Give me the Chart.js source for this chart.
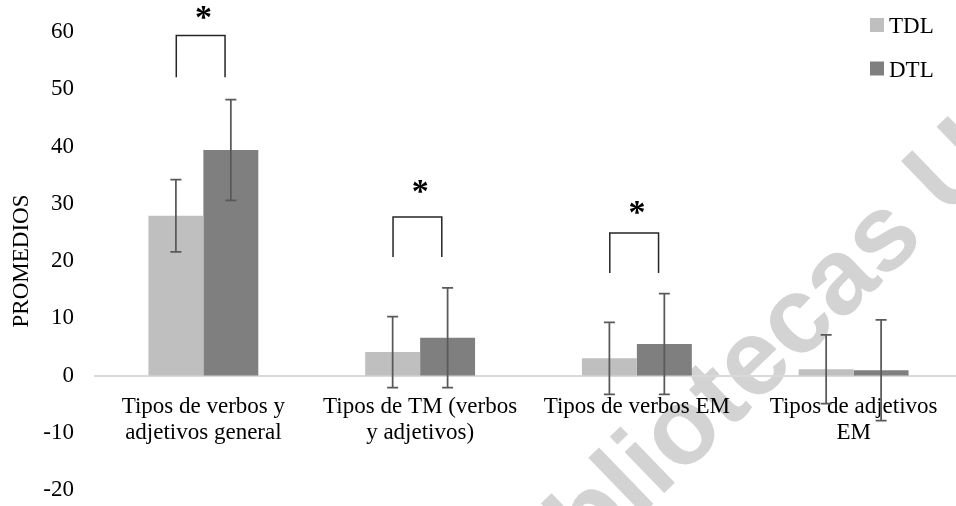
<!DOCTYPE html>
<html>
<head>
<meta charset="utf-8">
<script src="https://cdn.jsdelivr.net/npm/chart.js@4.4.1/dist/chart.umd.min.js"></script>
<style>
  html, body { margin: 0; padding: 0; background: #fff; overflow: hidden; }
  #wrap { position: relative; width: 966px; height: 506px; }
</style>
</head>
<body>
<div id="wrap"><canvas id="chart"></canvas></div>
<script>
// ---- datos ----
const CATEGORIES = [
  ["Tipos de verbos y", "adjetivos general"],
  ["Tipos de TM (verbos", "y adjetivos)"],
  "Tipos de verbos EM",
  ["Tipos de adjetivos", "EM"],
];
const TDL = [27.9, 4.1, 3.0, 1.1];
const TDL_SD = [6.3, 6.2, 6.3, 6.0];
const DTL = [39.4, 6.6, 5.5, 0.9];
const DTL_SD = [8.8, 8.7, 8.8, 8.8];
const Y_MIN = -20, Y_MAX = 60, Y_STEP = 10;

// corchetes de significancia (índice de categoría, alto/bajo en unidades del eje y, asterisco)
const SIG_INDEX = [0, 1, 2];
const SIG_TOP = [59.4, 27.7, 24.9];
const SIG_BOTTOM = [52.1, 20.7, 17.9];
const SIG_STAR = [63.4, 33.1, 29.4];

const WATERMARK = "Bibliotecas UC";
const FONT = "'Liberation Serif', 'Times New Roman', serif";

const watermark = {
  id: "watermark",
  beforeDraw(chart) {
    const ctx = chart.ctx;
    ctx.save();
    ctx.translate(512, 640);
    ctx.rotate(-44 * Math.PI / 180);
    ctx.font = "bold 108px 'Liberation Sans', Arial, sans-serif";
    ctx.fillStyle = "#d3d3d3";
    ctx.textBaseline = "alphabetic";
    ctx.fillText(WATERMARK, 0, 0);
    ctx.restore();
  }
};

const errorBars = {
  id: "errorBars",
  afterDatasetsDraw(chart) {
    const ctx = chart.ctx, y = chart.scales.y;
    const sds = [TDL_SD, DTL_SD];
    ctx.save();
    ctx.strokeStyle = "#595959";
    ctx.lineWidth = 1.75;
    chart.data.datasets.forEach((ds, i) => {
      chart.getDatasetMeta(i).data.forEach((bar, j) => {
        const v = ds.data[j], sd = sds[i][j];
        const top = y.getPixelForValue(v + sd), bot = y.getPixelForValue(v - sd);
        ctx.beginPath();
        ctx.moveTo(bar.x, top); ctx.lineTo(bar.x, bot);
        ctx.moveTo(bar.x - 5.5, top); ctx.lineTo(bar.x + 5.5, top);
        ctx.moveTo(bar.x - 5.5, bot); ctx.lineTo(bar.x + 5.5, bot);
        ctx.stroke();
      });
    });
    ctx.restore();
  }
};

const sigBrackets = {
  id: "sigBrackets",
  afterDraw(chart) {
    const ctx = chart.ctx, x = chart.scales.x, y = chart.scales.y;
    ctx.save();
    ctx.strokeStyle = "#262626";
    ctx.lineWidth = 1.5;
    ctx.fillStyle = "#000";
    ctx.font = "bold 34px " + FONT;
    ctx.textAlign = "center";
    ctx.textBaseline = "alphabetic";
    SIG_INDEX.forEach((idx, k) => {
      const l = x.getPixelForValue(idx - 0.125), r = x.getPixelForValue(idx + 0.10);
      const t = y.getPixelForValue(SIG_TOP[k]), b = y.getPixelForValue(SIG_BOTTOM[k]);
      ctx.beginPath();
      ctx.moveTo(l, b); ctx.lineTo(l, t); ctx.lineTo(r, t); ctx.lineTo(r, b);
      ctx.stroke();
      const m = ctx.measureText("*");
      const cy = y.getPixelForValue(SIG_STAR[k]);
      const off = (m.actualBoundingBoxAscent - m.actualBoundingBoxDescent) / 2;
      ctx.fillText("*", x.getPixelForValue(idx), cy + off);
    });
    ctx.restore();
  }
};

const sideLegend = {
  id: "sideLegend",
  afterDraw(chart) {
    const ctx = chart.ctx;
    ctx.save();
    ctx.font = "23px " + FONT;
    ctx.textBaseline = "alphabetic";
    ctx.textAlign = "left";
    chart.data.datasets.forEach((ds, i) => {
      const top = 18 + i * 43.5;
      ctx.fillStyle = ds.backgroundColor;
      ctx.fillRect(870, top, 14, 14);
      ctx.fillStyle = "#000";
      ctx.fillText(ds.label, 889, top + 15);
    });
    ctx.restore();
  }
};

new Chart(document.getElementById("chart"), {
  type: "bar",
  data: {
    labels: CATEGORIES,
    datasets: [
      { label: "TDL", data: TDL, backgroundColor: "#bfbfbf", borderWidth: 0 },
      { label: "DTL", data: DTL, backgroundColor: "#7f7f7f", borderWidth: 0 },
    ],
  },
  options: {
    responsive: true,
    maintainAspectRatio: false,
    animation: false,
    datasets: { bar: { categoryPercentage: 0.507, barPercentage: 1 } },
    layout: { padding: { left: 0, top: 32, bottom: 16, right: 4 } },
    plugins: { legend: { display: false }, tooltip: { enabled: false } },
    scales: {
      x: {
        position: { y: 0 },
        offset: true,
        grid: { display: false, drawTicks: false },
        border: { display: true, color: "#d9d9d9", width: 2 },
        ticks: { color: "#000", font: { family: FONT, size: 23, lineHeight: 1.13 }, padding: 18, maxRotation: 0, autoSkip: false },
        afterFit: s => { s.height = 0; },
      },
      y: {
        min: Y_MIN, max: Y_MAX,
        grid: { display: false, drawTicks: false },
        border: { display: false },
        ticks: { stepSize: Y_STEP, color: "#000", font: { family: FONT, size: 23 }, padding: 21 },
        title: { display: true, text: "PROMEDIOS", color: "#000", font: { family: FONT, size: 23 }, padding: { top: 8, bottom: 0 } },
        // el área del gráfico la fija el padding del layout, no el de las etiquetas
        afterFit: s => { s.width = 95; s.paddingTop = 0; s.paddingBottom = 0; },
      },
    },
  },
  plugins: [watermark, errorBars, sigBrackets, sideLegend],
});
</script>
</body>
</html>
